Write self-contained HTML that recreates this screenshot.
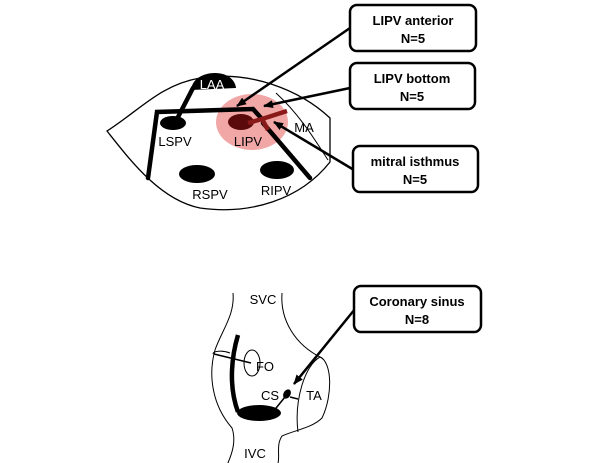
<!DOCTYPE html>
<html><head><meta charset="utf-8"><style>
html,body{margin:0;padding:0;background:#fff;}
svg{display:block;font-family:"Liberation Sans",Arial,sans-serif;}
</style></head><body>
<svg width="609" height="463" viewBox="0 0 609 463" xmlns="http://www.w3.org/2000/svg">
<defs>
<marker id="ar" markerWidth="10" markerHeight="8" refX="9" refY="4" orient="auto" markerUnits="userSpaceOnUse">
<path d="M0,0 L10,4 L0,8 Z" fill="#000"/></marker>
</defs>
<path d="M107,131 C140,110 160,85 200,78 C250,70 300,90 330,118 L330,162 C300,200 250,215 200,208 C160,200 130,160 107,131 Z" fill="none" stroke="#000" stroke-width="1.3"/>
<path d="M276,93 C300,115 315,140 328,160" fill="none" stroke="#000" stroke-width="1"/>
<ellipse cx="252" cy="122" rx="36" ry="28" fill="#ee8a8a" opacity="0.75"/>
<path d="M191,90 C192,79 203,73 215,73 C228,73 235,80 236,88 Z" fill="#000"/>
<text x="212" y="89" font-size="13" fill="#fff" text-anchor="middle">LAA</text>
<ellipse cx="173" cy="123" rx="13" ry="7" fill="#000"/>
<ellipse cx="241" cy="122" rx="13" ry="8" fill="#5a0a0a"/>
<ellipse cx="197" cy="174" rx="18" ry="9" fill="#000"/>
<ellipse cx="277" cy="170" rx="17" ry="9" fill="#000"/>
<g stroke="#000" stroke-width="4.5" fill="none" stroke-linecap="round">
<line x1="193" y1="88" x2="177" y2="119"/>
<polyline points="148,178 157,112 253,109 262,119"/>
<line x1="263" y1="123" x2="310" y2="178"/>
</g>
<g stroke="#8a1a1a" stroke-width="4.5" fill="none">
<polyline points="248,123 262,119 287,111"/>
<line x1="262" y1="119" x2="268" y2="130"/>
</g>
<g font-size="13" fill="#000" text-anchor="middle">
<text x="175" y="146">LSPV</text>
<text x="248" y="146">LIPV</text>
<text x="304" y="132">MA</text>
<text x="210" y="199">RSPV</text>
<text x="276" y="195">RIPV</text>
</g>
<g stroke="#000" stroke-width="2.5" fill="none">
<line x1="350" y1="28" x2="237" y2="106" marker-end="url(#ar)"/>
<line x1="350" y1="88" x2="264" y2="106" marker-end="url(#ar)"/>
<line x1="354" y1="170" x2="274" y2="122" marker-end="url(#ar)"/>
<line x1="355" y1="309" x2="294" y2="384" marker-end="url(#ar)"/>
</g>
<g stroke="#000" stroke-width="2.5" fill="#fff">
<rect x="350" y="5" width="126" height="46" rx="7"/>
<rect x="350" y="63" width="125" height="46" rx="7"/>
<rect x="353" y="146" width="125" height="46" rx="7"/>
<rect x="354" y="286" width="127" height="46" rx="7"/>
</g>
<g font-size="13" font-weight="bold" fill="#000" text-anchor="middle">
<text x="413" y="25">LIPV anterior</text><text x="413" y="43">N=5</text>
<text x="412" y="83">LIPV bottom</text><text x="412" y="101">N=5</text>
<text x="415" y="166">mitral isthmus</text><text x="415" y="184">N=5</text>
<text x="417" y="306">Coronary sinus</text><text x="417" y="324">N=8</text>
</g>
<g stroke="#000" stroke-width="1" fill="none">
<path d="M233,293 C235,315 222,330 215,350 C208,375 212,405 232,428 C236,440 233,452 227,465"/>
<path d="M282,293 C280,320 295,345 322,358"/>
<path d="M320,357 C332,362 333,395 322,418 C312,428 295,430 282,436 C276,445 280,455 278,463"/>
<path d="M320,357 C305,365 294,400 298,432"/>
<ellipse cx="252" cy="363" rx="8" ry="13"/>
<path d="M230,353 C222,350 213,351 213,354"/>
</g>
<g stroke="#000" fill="none">
<path d="M238,335 C232,355 228,385 238,412" stroke-width="4.5"/>
<line x1="214" y1="354" x2="251" y2="363" stroke-width="1.5"/>
<line x1="285" y1="397" x2="272" y2="413" stroke-width="1.5"/>
<line x1="290" y1="397" x2="298" y2="399" stroke-width="1.5"/>
</g>
<ellipse cx="259" cy="413" rx="22" ry="8" fill="#000"/>
<ellipse cx="287" cy="394" rx="3.5" ry="5" fill="#000" transform="rotate(30 287 394)"/>
<g font-size="13" fill="#000" text-anchor="middle">
<text x="263" y="304">SVC</text>
<text x="265" y="371">FO</text>
<text x="270" y="400">CS</text>
<text x="314" y="400">TA</text>
<text x="255" y="458">IVC</text>
</g>
</svg>
</body></html>
